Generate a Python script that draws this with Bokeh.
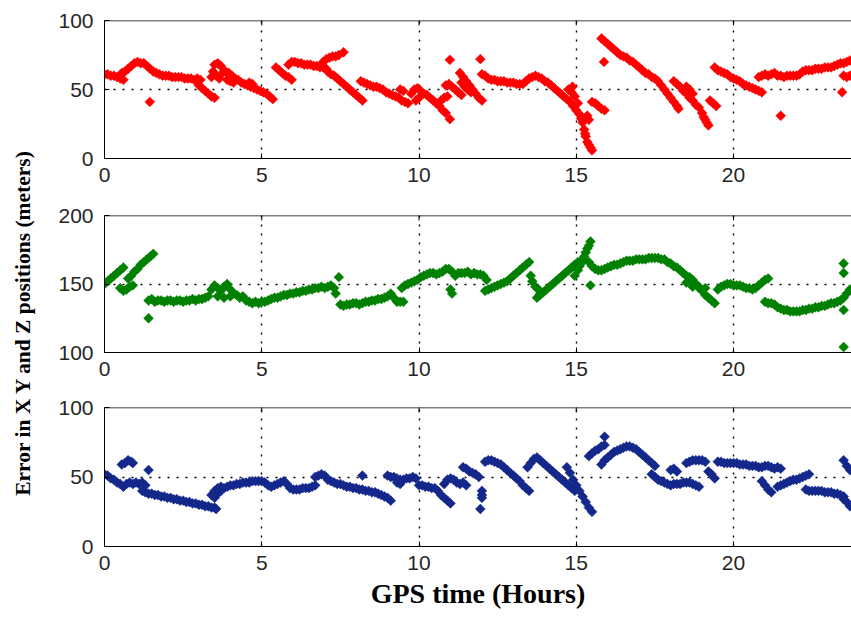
from math import pi
from bokeh.plotting import figure
from bokeh.models import Range1d, FixedTicker, Label, Span
from bokeh.layouts import row, column
from bokeh.embed import file_html
from bokeh.resources import INLINE

# ---------------- data (hours, error in meters) ----------------
x_ticks = [0, 5, 10, 15, 20]
y_ticks_x = [0, 50, 100]
y_ticks_y = [100, 150, 200]
y_ticks_z = [0, 50, 100]

x_error = [
    (0.0, 61), (0.1, 61), (0.2, 60), (0.3, 60), (0.4, 59), (0.5, 58), (0.6, 57),
    (0.55, 62), (0.65, 63), (0.75, 65), (0.85, 67), (0.95, 69),
    (1.05, 70), (1.15, 69), (1.25, 69),
    (1.35, 67), (1.45, 65), (1.55, 63), (1.65, 62),
    (1.75, 61), (1.85, 60), (1.95, 60), (2.05, 60), (2.15, 59), (2.25, 59), (2.35, 59),
    (2.45, 59), (2.55, 58), (2.65, 58), (2.75, 58), (2.85, 57),
    (1.44, 41),
    (2.95, 58), (3.05, 57), (3.0, 53), (3.1, 51), (3.2, 49), (3.3, 47), (3.4, 45), (3.5, 44),
    (3.4, 59), (3.45, 63), (3.5, 68), (3.6, 69), (3.7, 67), (3.55, 60), (3.65, 58), (3.75, 62),
    (3.85, 63), (3.95, 62), (4.05, 60), (4.15, 58), (4.25, 57), (4.35, 55), (4.45, 54),
    (4.55, 53), (4.65, 52), (4.75, 51), (4.85, 50), (4.95, 49), (5.05, 48), (5.15, 47),
    (5.25, 45), (5.35, 43),
    (3.9, 57), (4.0, 56), (4.1, 55), (4.6, 55), (4.7, 54),
    (5.45, 66), (5.55, 64), (5.65, 62), (5.75, 60), (5.85, 59), (5.95, 57),
    (5.85, 68), (5.95, 70), (6.05, 70), (6.15, 69), (6.25, 69), (6.35, 68), (6.45, 68),
    (6.55, 68), (6.65, 67), (6.75, 67), (6.85, 66), (6.95, 66), (7.05, 65),
    (6.95, 70), (7.05, 72), (7.15, 73), (7.25, 74), (7.35, 74), (7.45, 75), (7.6, 77),
    (7.1, 63), (7.2, 61), (7.3, 60), (7.4, 58), (7.5, 56), (7.6, 54), (7.7, 52), (7.8, 50),
    (7.9, 48), (8.0, 46), (8.1, 44), (8.2, 42),
    (8.15, 56), (8.25, 55), (8.35, 54), (8.45, 53), (8.55, 52), (8.65, 52), (8.75, 51),
    (8.85, 50), (8.95, 48), (9.05, 47), (9.15, 46),
    (9.25, 45), (9.35, 44), (9.45, 42), (9.55, 41), (9.65, 40), (9.4, 50), (9.5, 49),
    (9.75, 47), (9.85, 50), (9.95, 51), (10.05, 49), (10.15, 47), (10.25, 46), (10.35, 44),
    (10.45, 42), (9.9, 42), (10.0, 44),
    (10.55, 40), (10.65, 38), (10.75, 35), (10.85, 33), (10.7, 42), (10.8, 44), (10.9, 45),
    (10.98, 71.5), (10.98, 28.5),
    (10.85, 53), (10.95, 54), (11.05, 52), (11.15, 50), (11.25, 48), (11.35, 46),
    (11.3, 62), (11.4, 59), (11.5, 56), (11.6, 53), (11.7, 50), (11.8, 47), (11.9, 44), (12.0, 42),
    (11.35, 55), (11.45, 52), (11.55, 50), (11.65, 48),
    (11.95, 72),
    (12.0, 61), (12.1, 60), (12.2, 58), (12.3, 57), (12.4, 57), (12.5, 56), (12.6, 56),
    (12.7, 56), (12.8, 55), (12.9, 55), (13.0, 55), (13.1, 54), (13.2, 54), (13.3, 54),
    (13.4, 56), (13.5, 58), (13.6, 59), (13.7, 60), (13.8, 59), (13.9, 58), (14.0, 56), (14.1, 55),
    (14.2, 53), (14.3, 51), (14.4, 49), (14.5, 47), (14.6, 45), (14.7, 43), (14.8, 41),
    (14.9, 38), (15.0, 35),
    (14.75, 50), (14.85, 48), (14.88, 52), (14.95, 45), (15.05, 40), (15.1, 32), (15.15, 29),
    (15.2, 26), (15.25, 21), (15.28, 18), (15.3, 16), (15.35, 12), (15.4, 10), (15.45, 8),
    (15.5, 6),
    (15.5, 41), (15.6, 40), (15.7, 38), (15.8, 36), (15.9, 35), (15.35, 31), (15.4, 28),
    (15.88, 70),
    (15.8, 87), (15.9, 85), (16.0, 83), (16.1, 81), (16.2, 79), (16.3, 77), (16.4, 75),
    (16.5, 74), (16.6, 73), (16.7, 71), (16.8, 70), (16.9, 68), (17.0, 66), (17.1, 64),
    (17.2, 62), (17.3, 61), (17.4, 59), (17.5, 58), (17.6, 56), (17.7, 53), (17.8, 50),
    (17.9, 47), (18.0, 44), (18.1, 41), (18.2, 38), (18.25, 36),
    (18.1, 56), (18.2, 54), (18.3, 52), (18.4, 49), (18.5, 47), (18.6, 44), (18.7, 42),
    (18.8, 39), (18.9, 37), (19.0, 33), (19.05, 30), (19.1, 28), (19.15, 26), (19.2, 24),
    (18.5, 52), (18.6, 50), (18.7, 47),
    (19.25, 42), (19.35, 40), (19.45, 38),
    (19.4, 66), (19.5, 64), (19.6, 63), (19.7, 62), (19.8, 61), (19.9, 59), (20.0, 58),
    (20.1, 57), (20.2, 56), (20.3, 54), (20.4, 53), (20.5, 52), (20.6, 51), (20.7, 50),
    (20.8, 49), (20.9, 48),
    (21.5, 31),
    (20.8, 59), (20.9, 60), (21.0, 61), (21.1, 60), (21.2, 61), (21.3, 62), (21.4, 60),
    (21.5, 60), (21.6, 59), (21.7, 60), (21.8, 60), (21.9, 60), (22.0, 60), (22.1, 61),
    (22.2, 63), (22.3, 64), (22.4, 64), (22.5, 64), (22.6, 65), (22.7, 65), (22.8, 65),
    (22.9, 66), (23.0, 66), (23.1, 66), (23.2, 67), (23.3, 68), (23.4, 69), (23.5, 69),
    (23.6, 70), (23.7, 71),
    (23.5, 60), (23.6, 59), (23.7, 60), (23.45, 48),
]

y_error = [
    (0.0, 150), (0.1, 152), (0.2, 154), (0.3, 156), (0.4, 158), (0.5, 160), (0.6, 162),
    (0.5, 147), (0.6, 145), (0.7, 146), (0.8, 148), (0.9, 149),
    (0.75, 154), (0.85, 156), (0.95, 159), (1.05, 161), (1.15, 164), (1.25, 166),
    (1.35, 168), (1.45, 170), (1.55, 172),
    (1.4, 125),
    (1.4, 138), (1.5, 139), (1.6, 137), (1.7, 138), (1.8, 138), (1.9, 137), (2.0, 138),
    (2.1, 138), (2.2, 137), (2.3, 138), (2.4, 138), (2.5, 137), (2.6, 138), (2.7, 138),
    (2.8, 139), (2.9, 138), (3.0, 139), (3.1, 139), (3.2, 140), (3.3, 141),
    (3.4, 146), (3.5, 149), (3.6, 147), (3.7, 145), (3.8, 148), (3.9, 150), (4.0, 146),
    (4.1, 143), (3.6, 141), (3.8, 140), (4.0, 141),
    (4.2, 142), (4.3, 140), (4.4, 141), (4.5, 138), (4.6, 137), (4.7, 136), (4.8, 137),
    (4.9, 136), (5.0, 137),
    (5.1, 137), (5.2, 138), (5.3, 139), (5.4, 140), (5.5, 140), (5.6, 141), (5.7, 142),
    (5.8, 142), (5.9, 143), (6.0, 143), (6.1, 144), (6.2, 144), (6.3, 145), (6.4, 145),
    (6.5, 146), (6.6, 146), (6.7, 147), (6.8, 147), (6.9, 148), (7.0, 147), (7.1, 148),
    (7.2, 149), (7.3, 147), (7.35, 143),
    (7.45, 155),
    (7.5, 135), (7.6, 134), (7.7, 135), (7.8, 135), (7.9, 136), (8.0, 136), (8.1, 135),
    (8.2, 136), (8.3, 137), (8.4, 137), (8.5, 138), (8.6, 138), (8.7, 139), (8.8, 139),
    (8.9, 140), (9.0, 141), (9.1, 143), (9.2, 140), (9.3, 137), (9.4, 137), (9.5, 137),
    (9.45, 147), (9.55, 149), (9.65, 150), (9.75, 151), (9.85, 152), (9.95, 153),
    (10.05, 155), (10.15, 156), (10.25, 157), (10.35, 158), (10.45, 158), (10.55, 157),
    (10.65, 158), (10.75, 159), (10.85, 161), (10.95, 161), (11.05, 159), (11.15, 156),
    (11.25, 158),
    (11.0, 146), (11.05, 143),
    (11.35, 158), (11.45, 158), (11.55, 159), (11.65, 157), (11.75, 158), (11.85, 157),
    (11.95, 157), (12.05, 156), (12.15, 153),
    (12.1, 145), (12.2, 146), (12.3, 147), (12.4, 148), (12.5, 149), (12.6, 150),
    (12.7, 151), (12.8, 152), (12.9, 154), (13.0, 156), (13.1, 158), (13.2, 160),
    (13.3, 162), (13.4, 164), (13.5, 166),
    (13.55, 156), (13.6, 152), (13.7, 148), (13.8, 146), (13.85, 143),
    (13.75, 140), (13.85, 142), (13.95, 144), (14.05, 146), (14.15, 148), (14.25, 150),
    (14.35, 152), (14.45, 154), (14.55, 156), (14.65, 158), (14.75, 160), (14.85, 162),
    (14.95, 164), (15.05, 166),
    (14.95, 156), (15.05, 160), (15.1, 163), (15.15, 165), (15.2, 168), (15.25, 170),
    (15.3, 173), (15.35, 176), (15.4, 178), (15.45, 181),
    (15.45, 149),
    (15.4, 166), (15.5, 163), (15.6, 161), (15.7, 160),
    (15.8, 160), (15.9, 161), (16.0, 162), (16.1, 163), (16.2, 164), (16.3, 164),
    (16.4, 165), (16.5, 166), (16.6, 167), (16.7, 167), (16.8, 167), (16.9, 168),
    (17.0, 168), (17.1, 168), (17.2, 168), (17.3, 169), (17.4, 169), (17.5, 169),
    (17.6, 169), (17.7, 168), (17.8, 168), (17.9, 166), (18.0, 165), (18.1, 163),
    (18.2, 162), (18.3, 160), (18.4, 158), (18.5, 156), (18.6, 155), (18.7, 153),
    (18.8, 150), (18.9, 148), (19.0, 145), (19.1, 142), (19.2, 140), (19.3, 138), (19.4, 136),
    (18.5, 151), (18.7, 148), (18.9, 147), (19.1, 147),
    (19.5, 146), (19.6, 148), (19.7, 149), (19.8, 150), (19.9, 150), (20.0, 149),
    (20.1, 149), (20.2, 149), (20.3, 148), (20.4, 147), (20.5, 147), (20.6, 146),
    (20.7, 147), (20.8, 149), (20.9, 151), (21.0, 153), (21.1, 154),
    (21.0, 137), (21.1, 136), (21.2, 136), (21.3, 135), (21.4, 133), (21.5, 132),
    (21.6, 131), (21.7, 131), (21.8, 130), (21.9, 130), (22.0, 130), (22.1, 130),
    (22.2, 131), (22.3, 131), (22.4, 132), (22.5, 132), (22.6, 133), (22.7, 133),
    (22.8, 134), (22.9, 134), (23.0, 135), (23.1, 136), (23.2, 136), (23.3, 137),
    (23.4, 138), (23.5, 140), (23.6, 143), (23.7, 146),
    (23.5, 165), (23.5, 158), (23.5, 131), (23.5, 104),
]

z_error = [
    (0.0, 52), (0.1, 51), (0.2, 49), (0.3, 48), (0.4, 46), (0.5, 45), (0.6, 43),
    (0.55, 59), (0.65, 60), (0.75, 62), (0.85, 61), (0.9, 60),
    (0.7, 45), (0.8, 46), (0.9, 45), (1.0, 46), (1.1, 45), (1.2, 46), (1.3, 44),
    (1.4, 55),
    (1.2, 40), (1.3, 39), (1.4, 38), (1.5, 38), (1.6, 37), (1.7, 37), (1.8, 36), (1.9, 36),
    (2.0, 35), (2.1, 35), (2.2, 34), (2.3, 34), (2.4, 33), (2.5, 33), (2.6, 32), (2.7, 32),
    (2.8, 31), (2.9, 31), (3.0, 30), (3.1, 30), (3.2, 29), (3.3, 29), (3.4, 28), (3.5, 28),
    (3.55, 27),
    (3.4, 37), (3.5, 40), (3.6, 42), (3.7, 43), (3.8, 42), (3.9, 43), (4.0, 44), (4.1, 44),
    (4.2, 45), (4.3, 45), (4.4, 46), (4.5, 46), (4.6, 46), (4.7, 47), (4.8, 47), (4.9, 47),
    (5.0, 47), (3.5, 35), (3.6, 38), (3.7, 40),
    (5.1, 46), (5.2, 44), (5.3, 43), (5.4, 44), (5.5, 45), (5.6, 46), (5.7, 47), (5.8, 45),
    (5.9, 42), (6.0, 41), (6.1, 41), (6.2, 41), (6.3, 42), (6.4, 42), (6.5, 42), (6.6, 43),
    (6.7, 44),
    (6.7, 50), (6.8, 51), (6.9, 52), (7.0, 51),
    (7.1, 48), (7.2, 47), (7.3, 46), (7.4, 45), (7.5, 45), (7.6, 44), (7.7, 43), (7.8, 43),
    (7.9, 42), (8.0, 42), (8.1, 41), (8.2, 41), (8.3, 40), (8.4, 40), (8.5, 39), (8.6, 39),
    (8.7, 38), (8.8, 37), (8.9, 36), (9.0, 35), (9.1, 33),
    (8.2, 51),
    (9.0, 51), (9.1, 50), (9.2, 50), (9.3, 49), (9.4, 48), (9.5, 48), (9.6, 49), (9.7, 49),
    (9.8, 50), (9.9, 49), (9.3, 46), (9.4, 45),
    (10.0, 44), (10.1, 44), (10.2, 43), (10.3, 43), (10.4, 42), (10.5, 42), (10.6, 40),
    (10.7, 37), (10.8, 35), (10.9, 33), (11.0, 31),
    (10.8, 45), (10.9, 48), (11.0, 49), (11.1, 48), (11.2, 46), (11.3, 45), (11.4, 46), (11.5, 44),
    (11.4, 57), (11.5, 56), (11.6, 54), (11.7, 53), (11.8, 52), (11.9, 50),
    (12.0, 40), (12.0, 37), (12.0, 35), (11.95, 27),
    (12.1, 61), (12.2, 62), (12.3, 62), (12.4, 61), (12.5, 60), (12.6, 59), (12.7, 57),
    (12.8, 55), (12.9, 53), (13.0, 51), (13.1, 49), (13.2, 47), (13.3, 44), (13.4, 42), (13.5, 40),
    (13.45, 57), (13.55, 60), (13.65, 63), (13.75, 64), (13.85, 62), (13.95, 60), (14.05, 58),
    (14.15, 56), (14.25, 54), (14.35, 52), (14.45, 50), (14.55, 48), (14.65, 46), (14.75, 44),
    (14.85, 42), (14.95, 40),
    (14.7, 57), (14.8, 53), (14.9, 48), (15.0, 44), (15.1, 40), (15.2, 36), (15.3, 32),
    (15.4, 28), (15.5, 25),
    (15.4, 65), (15.5, 67), (15.6, 69), (15.7, 70), (15.8, 72), (15.9, 73),
    (15.9, 79),
    (15.8, 59), (15.9, 62), (16.0, 64), (16.1, 66), (16.2, 68), (16.3, 69), (16.4, 70),
    (16.5, 71), (16.6, 72), (16.7, 72), (16.8, 71), (16.9, 70), (17.0, 68), (17.1, 66),
    (17.2, 64), (17.3, 62), (17.4, 60), (17.5, 58),
    (17.4, 52), (17.5, 50), (17.6, 48), (17.7, 47), (17.8, 46), (17.9, 45), (18.0, 44),
    (18.1, 45), (18.2, 45), (18.3, 45), (18.4, 46), (18.5, 46), (18.6, 46), (18.7, 45),
    (18.8, 44), (18.9, 43),
    (18.0, 55), (18.1, 56), (18.2, 54),
    (18.5, 60), (18.6, 61), (18.7, 62), (18.8, 62), (18.9, 62), (19.0, 62), (19.1, 61),
    (19.2, 54), (19.3, 52), (19.4, 49),
    (19.5, 61), (19.6, 61), (19.7, 60), (19.8, 60), (19.9, 60), (20.0, 60), (20.1, 60),
    (20.2, 59), (20.3, 59), (20.4, 59), (20.5, 58), (20.6, 58), (20.7, 58), (20.8, 57),
    (20.9, 57), (21.0, 58), (21.1, 58), (21.2, 57), (21.3, 56), (21.4, 57), (21.5, 56),
    (20.9, 47), (21.0, 44), (21.1, 41), (21.2, 39),
    (21.4, 43), (21.5, 44), (21.6, 45), (21.7, 46), (21.8, 47), (21.9, 48), (22.0, 48),
    (22.1, 49), (22.2, 50), (22.3, 51), (22.4, 52),
    (22.3, 41), (22.4, 40), (22.5, 40), (22.6, 40), (22.7, 40), (22.8, 40), (22.9, 39),
    (23.0, 39), (23.1, 39), (23.2, 38), (23.3, 38), (23.4, 37), (23.5, 36),
    (23.5, 34), (23.6, 32), (23.7, 29),
    (23.5, 62), (23.6, 58), (23.7, 55),
]

series = [
    (x_error, "#FF0000", (0, 100), y_ticks_x),
    (y_error, "#008000", (100, 200), y_ticks_y),
    (z_error, "#14288C", (0, 100), y_ticks_z),
]

# ---------------- layout ----------------
LABEL_W = 48
PANEL_W = 803
borders = [(20, 37, 195), (20, 38, 195), (17, 69, 225)]
TICK_FONT = "Liberation Sans"
TICK_SIZE = "21px"
TICK_COLOR = "#262626"


def style_axis(ax):
    ax.axis_line_color = "black"
    ax.axis_line_width = 1
    ax.major_tick_in = 5
    ax.major_tick_out = 0
    ax.minor_tick_line_color = None
    ax.major_tick_line_color = "black"
    ax.major_label_text_font = TICK_FONT
    ax.major_label_text_font_size = TICK_SIZE
    ax.major_label_text_color = TICK_COLOR


panels = []
for i, (pts, color, yr, yt) in enumerate(series):
    top, bottom, h = borders[i]
    p = figure(width=PANEL_W, height=h, output_backend="svg", toolbar_location=None,
               x_range=Range1d(0, 23.75), y_range=Range1d(*yr),
               min_border_left=56, min_border_right=0,
               min_border_top=top, min_border_bottom=bottom,
               outline_line_color=None, background_fill_color="white",
               border_fill_color="white")

    # dotted MATLAB-style grid
    p.xgrid.ticker = FixedTicker(ticks=x_ticks)
    p.ygrid.ticker = FixedTicker(ticks=yt)
    for g in (p.xgrid[0], p.ygrid[0]):
        g.grid_line_color = "black"
        g.grid_line_dash = "2 7"
        g.grid_line_width = 1.4

    xs = [a for a, b in pts]
    ys = [b for a, b in pts]
    p.scatter(xs, ys, marker="square", angle=pi / 4, size=7,
              fill_color=color, line_color=color, line_width=0.5)

    xa = p.below[0]
    ya = p.left[0]
    xa.ticker = FixedTicker(ticks=x_ticks)
    ya.ticker = FixedTicker(ticks=yt)
    style_axis(xa)
    style_axis(ya)
    xa.major_label_standoff = 9
    ya.major_label_standoff = 11

    # top border of the box with inward ticks (clipped to the frame)
    p.add_layout(Span(location=yr[1], dimension="width", line_color="black", line_width=1.5))
    p.scatter(x_ticks, [yr[1]] * len(x_ticks), marker="dash", angle=pi / 2, size=10,
              line_color="black", line_width=1)

    if i == 2:
        xa.axis_label = "GPS time (Hours)"
        xa.axis_label_text_font = "Liberation Serif"
        xa.axis_label_text_font_style = "bold"
        xa.axis_label_text_font_size = "28px"
        xa.axis_label_text_color = "black"
        xa.axis_label_standoff = 5
    panels.append(p)

total_h = sum(b[2] for b in borders)
lab = figure(width=LABEL_W, height=total_h, output_backend="svg", toolbar_location=None,
             x_range=Range1d(0, LABEL_W), y_range=Range1d(0, total_h),
             min_border=0, outline_line_color=None)
lab.axis.visible = False
lab.grid.visible = False
lab.add_layout(Label(x=22, y=total_h - 322, text="Error in X Y and Z positions (meters)",
                     angle=pi / 2, text_align="center", text_baseline="middle",
                     text_font="Liberation Serif", text_font_style="bold",
                     text_font_size="21.5px", text_color="black"))

layout = row(lab, column(*panels))

open("out.html", "w").write(file_html(layout, INLINE))
